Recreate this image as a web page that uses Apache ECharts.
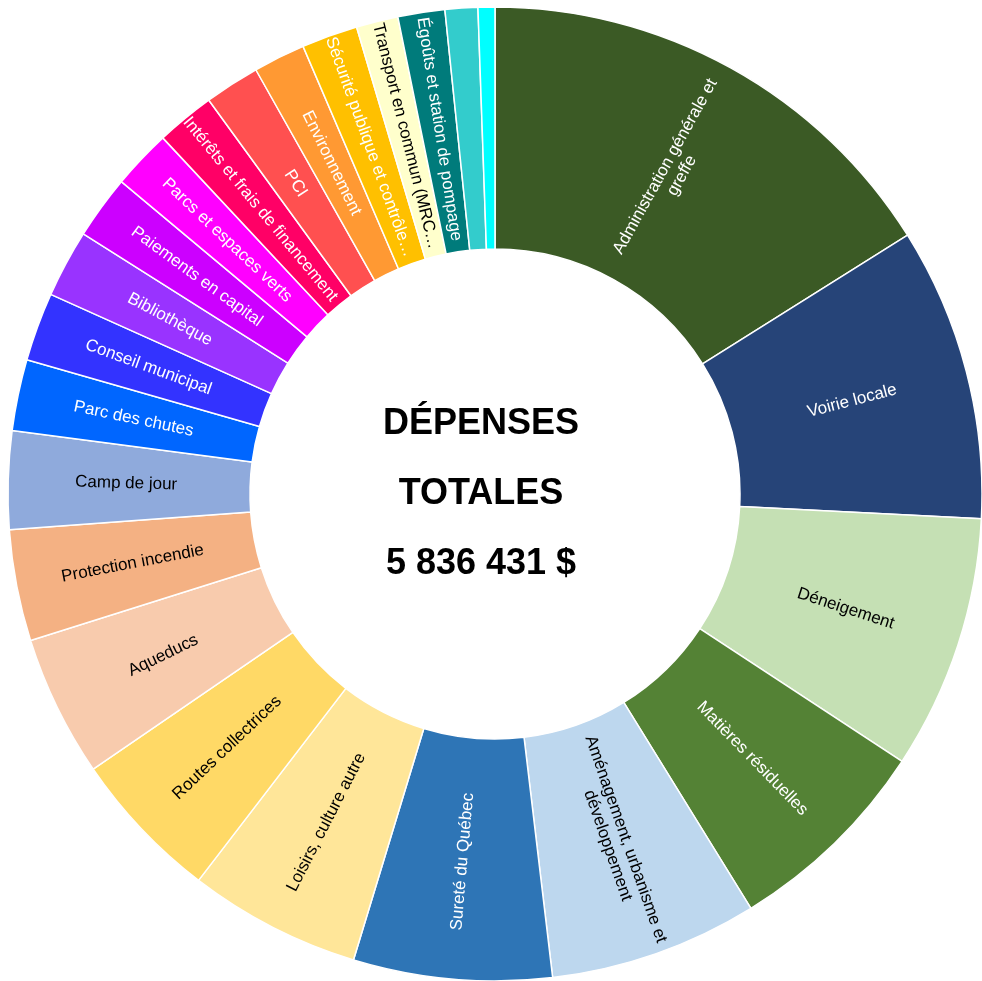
<!DOCTYPE html>
<html>
<head>
<meta charset="utf-8">
<script src="https://cdn.jsdelivr.net/npm/echarts@6/dist/echarts.min.js"></script>
<style>
html,body{margin:0;padding:0;background:#fff;}
#chart{width:982px;height:981px;}
</style>
</head>
<body>
<div id="chart"></div>
<script>
const categories = [
  "Administration générale et greffe",
  "Voirie locale",
  "Déneigement",
  "Matières résiduelles",
  "Aménagement, urbanisme et développement",
  "Sureté du Québec",
  "Loisirs, culture autre",
  "Routes collectrices",
  "Aqueducs",
  "Protection incendie",
  "Camp de jour",
  "Parc des chutes",
  "Conseil municipal",
  "Bibliothèque",
  "Paiements en capital",
  "Parcs et espaces verts",
  "Intérêts et frais de financement",
  "PCI",
  "Environnement",
  "Sécurité publique et contrôle animal",
  "Transport en commun (MRC de la région)",
  "Égoûts et station de pompage",
  "Autres dépenses",
  "Divers"
];
const labelTexts = [
  "Administration générale et\ngreffe",
  "Voirie locale",
  "Déneigement",
  "Matières résiduelles",
  "Aménagement, urbanisme et\ndéveloppement",
  "Sureté du Québec",
  "Loisirs, culture autre",
  "Routes collectrices",
  "Aqueducs",
  "Protection incendie",
  "Camp de jour",
  "Parc des chutes",
  "Conseil municipal",
  "Bibliothèque",
  "Paiements en capital",
  "Parcs et espaces verts",
  "Intérêts et frais de financement",
  "PCI",
  "Environnement",
  "Sécurité publique et contrôle…",
  "Transport en commun (MRC…",
  "Égoûts et station de pompage",
  "",
  ""
];
const values = [
  938700, 567400, 492850, 405300, 403700, 384200, 334000, 293400,
  274000, 215600, 189700, 137800, 132900, 131300, 123200, 115100,
  113500, 107000, 100500, 108600, 81100, 90800, 63200, 32581
];
const colors = [
  "#3b5a25", "#264478", "#c5e0b4", "#548235", "#bdd7ee", "#2e75b6",
  "#ffe699", "#ffd966", "#f8cbad", "#f4b183", "#8faadc", "#0066ff",
  "#3333ff", "#9933ff", "#cc00ff", "#ff00ff", "#ff0066", "#ff5050",
  "#ff9933", "#ffc000", "#ffffcc", "#007b7b", "#33cccc", "#00ffff"
];
const darkText = [false,false,true,false,true,false,true,true,true,true,true,false,false,false,false,false,false,false,false,false,true,false,false,false];
const totalLines = ["DÉPENSES", "TOTALES", "5 836 431 $"];

const data = categories.map((name, i) => ({
  name: name,
  value: values[i],
  itemStyle: { color: colors[i] },
  label: {
    show: labelTexts[i] !== "",
    formatter: labelTexts[i] || " ",
    color: darkText[i] ? "#000" : "#fff"
  }
}));

const chart = echarts.init(document.getElementById('chart'), null, {renderer: 'canvas'});
chart.setOption({
  animation: false,
  backgroundColor: '#fff',
  graphic: [{
    type: 'text',
    x: 481,
    y: 494,
    style: {
      text: totalLines.join('\n'),
      align: 'center',
      verticalAlign: 'middle',
      fontFamily: '"Liberation Sans", Arial, sans-serif',
      fontWeight: 'bold',
      fontSize: 36,
      lineHeight: 70,
      fill: '#000'
    }
  }],
  series: [{
    type: 'pie',
    center: [495, 494],
    radius: [245, 487],
    startAngle: 90,
    clockwise: true,
    sort: false,
    avoidLabelOverlap: false,
    itemStyle: { borderColor: '#fff', borderWidth: 1.5 },
    label: {
      position: 'inside',
      rotate: 'radial',
      fontSize: 17,
      fontFamily: '"Liberation Sans", Arial, sans-serif',
      lineHeight: 19,
      align: 'center'
    },
    labelLine: { show: false },
    emphasis: { disabled: true },
    data: data
  }]
});
</script>
</body>
</html>
